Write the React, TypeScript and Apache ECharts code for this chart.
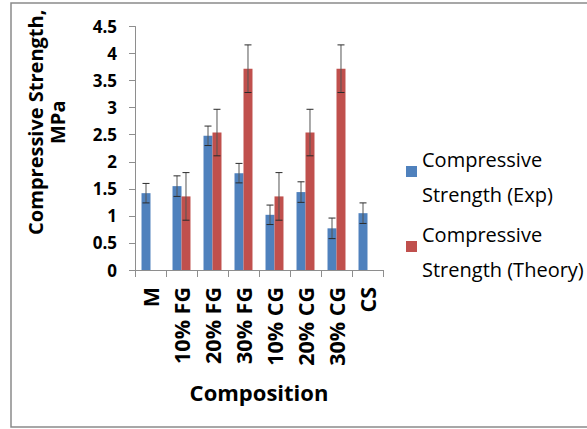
import React, { useEffect, useRef } from "react";
import * as echarts from "echarts";

const categories = ["M", "10% FG", "20% FG", "30% FG", "10% CG", "20% CG", "30% CG", "CS"];
const expValues = [1.42, 1.55, 2.48, 1.79, 1.02, 1.44, 0.77, 1.05];
const expErrors = [0.18, 0.19, 0.18, 0.18, 0.18, 0.19, 0.19, 0.19];
const theoryValues: (number | null)[] = [null, 1.36, 2.54, 3.72, 1.36, 2.54, 3.72, null];
const theoryErrors: (number | null)[] = [null, 0.44, 0.43, 0.44, 0.44, 0.43, 0.44, null];
const seriesNames = ["Compressive Strength (Exp)", "Compressive Strength (Theory)"];
const legendLines = [
  ["Compressive", "Strength (Exp)"],
  ["Compressive", "Strength (Theory)"],
];

const FONT = "'Open Sans', 'Noto Sans', sans-serif";

function errorData(values: (number | null)[], errors: (number | null)[]) {
  const out: number[][] = [];
  values.forEach((v, i) => {
    const e = errors[i];
    if (v != null && e != null) out.push([i, v, e]);
  });
  return out;
}

function makeErrorRender(side: number) {
  return (params: any, api: any) => {
    const idx = api.value(0);
    const v = api.value(1);
    const e = api.value(2);
    const band = api.size([1, 0])[0];
    const off = band * 0.145 * side;
    const top = api.coord([idx, v + e]);
    const bot = api.coord([idx, v - e]);
    const x = top[0] + off;
    const cap = 3.5;
    const st = { stroke: "#2b2b2b", lineWidth: 1 };
    return {
      type: "group",
      children: [
        { type: "line", shape: { x1: x, y1: top[1], x2: x, y2: bot[1] }, style: { stroke: "#555", lineWidth: 1 } },
        { type: "line", shape: { x1: x - cap, y1: top[1], x2: x + cap, y2: top[1] }, style: st },
        { type: "line", shape: { x1: x - cap, y1: bot[1], x2: x + cap, y2: bot[1] }, style: st },
      ],
    };
  };
}

export default function App() {
  const ref = useRef<HTMLDivElement>(null);
  useEffect(() => {
    if (!ref.current) return;
    const chart = echarts.init(ref.current, null, { renderer: "svg" });
    const legendText = {
      fontFamily: FONT,
      fontSize: 20,
      color: "#000",
      rich: {
        s: { fontSize: 1, lineHeight: 10 },
        t: { fontFamily: FONT, fontSize: 20, lineHeight: 35, color: "#000" },
      },
    };
    const mkLegend = (i: number, top: number) => ({
      data: [seriesNames[i]],
      left: 406,
      top,
      padding: 0,
      itemWidth: 11,
      itemHeight: 11,
      itemGap: 0,
      icon: "rect",
      formatter: () => `{s| }\n{t|${legendLines[i][0]}}\n{t|${legendLines[i][1]}}`,
      textStyle: legendText,
    });
    chart.setOption({
      animation: false,
      backgroundColor: "#fff",
      textStyle: { fontFamily: FONT },
      grid: { left: 135, right: 204, top: 26.5, bottom: 159, containLabel: false },
      legend: [mkLegend(0, 136), mkLegend(1, 211)],
      xAxis: {
        type: "category",
        data: categories,
        name: "Composition",
        nameLocation: "middle",
        nameGap: 111,
        nameTextStyle: { fontFamily: FONT, fontSize: 22, fontWeight: "bold", color: "#000" },
        axisLine: { show: true, lineStyle: { color: "#8e8e8e", width: 1 } },
        axisTick: { show: true, length: 7, lineStyle: { color: "#8e8e8e" } },
        axisLabel: {
          rotate: 90,
          interval: 0,
          margin: 17,
          fontFamily: FONT,
          fontSize: 21.5,
          fontWeight: "bold",
          color: "#000",
        },
        splitLine: { show: false },
      },
      yAxis: {
        type: "value",
        min: 0,
        max: 4.5,
        interval: 0.5,
        name: "Compressive Strength,\nMPa",
        nameLocation: "middle",
        nameRotate: 90,
        nameGap: 67,
        nameTextStyle: {
          fontFamily: FONT,
          fontSize: 20,
          fontWeight: "bold",
          color: "#000",
          lineHeight: 22,
          padding: [0, 0, 0, 52],
        },
        axisLine: { show: true, lineStyle: { color: "#8e8e8e", width: 1 } },
        axisTick: { show: true, length: 6, lineStyle: { color: "#8e8e8e" } },
        axisLabel: { margin: 18, fontFamily: FONT, fontSize: 17, fontWeight: "bold", color: "#000" },
        splitLine: { show: false },
      },
      series: [
        {
          name: seriesNames[0],
          type: "bar",
          data: expValues,
          barGap: "0%",
          barCategoryGap: "42%",
          itemStyle: { color: "#4F81BD" },
        },
        {
          name: seriesNames[1],
          type: "bar",
          data: theoryValues,
          barGap: "0%",
          barCategoryGap: "42%",
          itemStyle: { color: "#C0504D" },
        },
        {
          type: "custom",
          name: "Exp error",
          data: errorData(expValues, expErrors),
          encode: { x: 0, y: 1 },
          renderItem: makeErrorRender(-1),
          z: 5,
          silent: true,
        },
        {
          type: "custom",
          name: "Theory error",
          data: errorData(theoryValues, theoryErrors),
          encode: { x: 0, y: 1 },
          renderItem: makeErrorRender(1),
          z: 5,
          silent: true,
        },
      ],
      graphic: [
        {
          type: "rect",
          shape: { x: 11, y: 3, width: 600, height: 424 },
          style: { fill: "none", stroke: "#8a8a8a", lineWidth: 1.5 },
          silent: true,
          z: -1,
        },
      ],
    });
    return () => chart.dispose();
  }, []);
  return (
    <div
      ref={ref}
      style={{ position: "fixed", left: 0, top: 0, width: 587, height: 429 }}
    />
  );
}
